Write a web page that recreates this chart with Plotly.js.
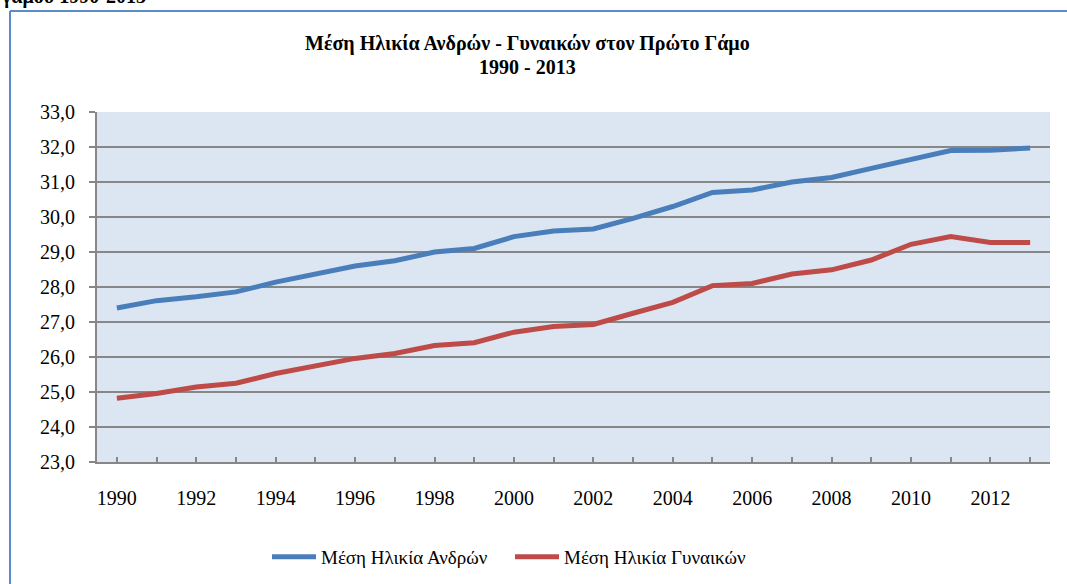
<!DOCTYPE html>
<html>
<head>
<meta charset="utf-8">
<script src="https://cdn.plot.ly/plotly-3.0.1.min.js"></script>
<style>
html,body{margin:0;padding:0;background:#fff;}
#chart{width:1067px;height:584px;}
</style>
</head>
<body>
<div id="chart"></div>
<script>
const years = [1990,1991,1992,1993,1994,1995,1996,1997,1998,1999,2000,2001,2002,2003,2004,2005,2006,2007,2008,2009,2010,2011,2012,2013];
const menAge = [27.40,27.61,27.72,27.86,28.14,28.36,28.60,28.75,29.00,29.10,29.44,29.60,29.66,29.96,30.30,30.70,30.77,31.00,31.13,31.39,31.65,31.90,31.91,31.97];
const womenAge = [24.82,24.96,25.14,25.25,25.53,25.75,25.96,26.10,26.33,26.41,26.71,26.87,26.93,27.25,27.56,28.04,28.10,28.37,28.49,28.77,29.22,29.44,29.27,29.27];
const xTickLabels = years.map(y => (y % 2 === 0 ? String(y) : ''));
const yTicks = [23,24,25,26,27,28,29,30,31,32,33];
const seriesNames = ['Μέση Ηλικία Ανδρών', 'Μέση Ηλικία Γυναικών'];
const titleLine1 = '<b>Μέση Ηλικία Ανδρών - Γυναικών στον Πρώτο Γάμο</b>';
const titleLine2 = '<b>1990 - 2013</b>';
const cutHeading = '<b>γάμου 1990-2013</b>';

const serif = '"Liberation Serif", "Times New Roman", serif';
const gridCol = '#878787';
const frameCol = '#5b8cc9';

const traces = [
  {x: years, y: menAge, name: seriesNames[0], type: 'scatter', mode: 'lines',
   line: {color: '#4a7ebb', width: 5}},
  {x: years, y: womenAge, name: seriesNames[1], type: 'scatter', mode: 'lines',
   line: {color: '#be4b48', width: 5}}
];

// pixel <-> paper helpers (plot area 97..1050 x, 112..462 y)
const px = p => (p - 97) / 953;
const py = p => (462 - p) / 350;

const layout = {
  width: 1067, height: 584,
  margin: {l: 97, r: 17, t: 112, b: 122, autoexpand: false},
  paper_bgcolor: '#ffffff',
  plot_bgcolor: '#dce6f2',
  separators: ',.',
  font: {family: serif, color: '#000', size: 20},
  showlegend: true,
  xaxis: {
    type: 'linear', range: [1989.5, 2013.5], automargin: false,
    tickmode: 'array', tickvals: years, ticktext: xTickLabels,
    ticks: 'inside', ticklen: 5, tickwidth: 2, tickcolor: gridCol,
    showline: true, linecolor: gridCol, linewidth: 2,
    showgrid: false, zeroline: false,
    tickfont: {family: serif, size: 20, color: '#000'},
    ticklabelstandoff: 17
  },
  yaxis: {
    range: [23, 33], tickmode: 'array', tickvals: yTicks, tickformat: '.1f', automargin: false,
    ticks: 'outside', ticklen: 6, tickwidth: 2, tickcolor: gridCol,
    showline: true, linecolor: gridCol, linewidth: 2,
    showgrid: true, gridcolor: gridCol, gridwidth: 2,
    zeroline: false,
    tickfont: {family: serif, size: 20, color: '#000'},
    ticklabelstandoff: 10
  },
  legend: {orientation: 'h', x: px(510), xanchor: 'center', y: py(557), yanchor: 'middle',
           font: {family: serif, size: 19, color: '#000'}, bgcolor: 'rgba(0,0,0,0)',
           itemwidth: 44, entrywidth: 184, entrywidthmode: 'pixels'},
  shapes: [
    {type: 'line', xref: 'paper', yref: 'paper', x0: px(10), x1: px(10), y0: py(11), y1: py(600),
     line: {color: frameCol, width: 2}},
    {type: 'line', xref: 'paper', yref: 'paper', x0: px(10), x1: px(1080), y0: py(11), y1: py(11),
     line: {color: frameCol, width: 2}}
  ],
  annotations: [
    {text: titleLine1, xref: 'paper', yref: 'paper', x: px(527), xanchor: 'center',
     y: py(44), yanchor: 'middle', showarrow: false,
     font: {family: serif, size: 20, color: '#000'}},
    {text: titleLine2, xref: 'paper', yref: 'paper', x: px(527), xanchor: 'center',
     y: py(67), yanchor: 'middle', showarrow: false,
     font: {family: serif, size: 20, color: '#000'}},
    {text: cutHeading, xref: 'paper', yref: 'paper', x: px(148), xanchor: 'right',
     y: py(-4), yanchor: 'middle', showarrow: false,
     font: {family: serif, size: 20, color: '#000'}}
  ]
};

Plotly.newPlot('chart', traces, layout, {displayModeBar: false, staticPlot: true});
</script>
</body>
</html>
